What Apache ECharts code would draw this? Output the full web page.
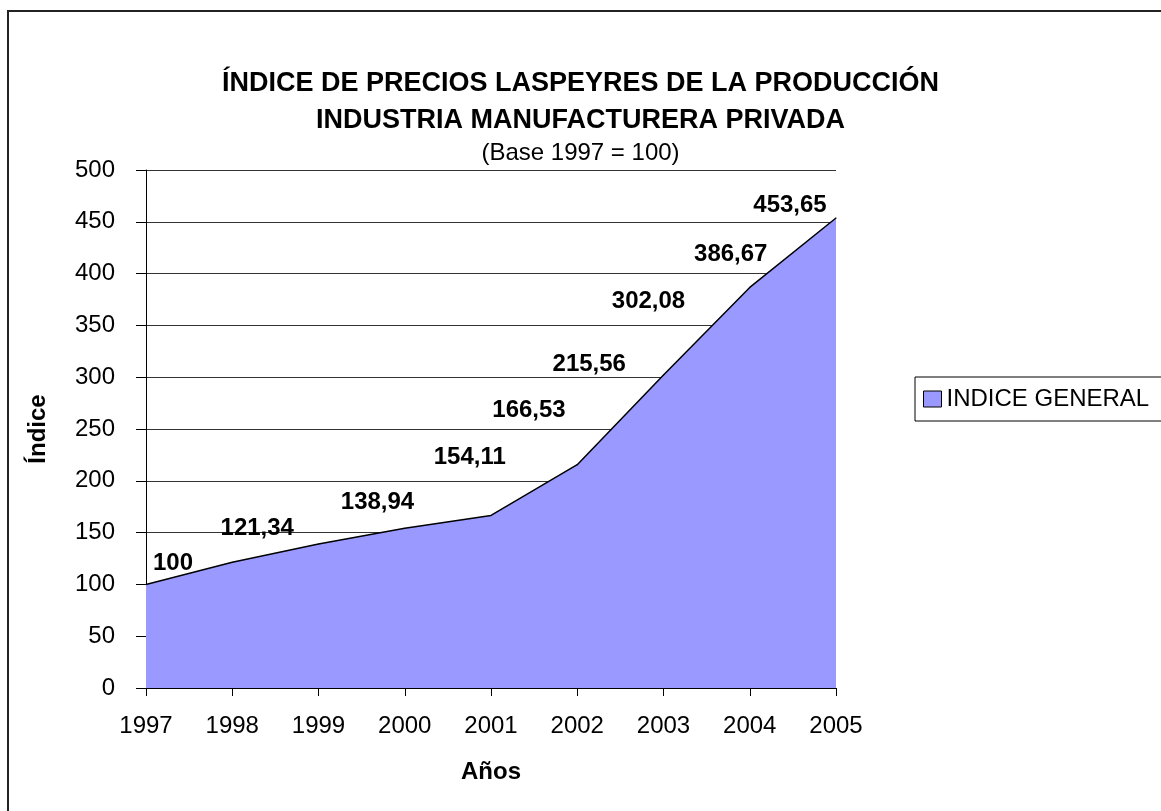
<!DOCTYPE html>
<html>
<head>
<meta charset="utf-8">
<script src="https://cdn.jsdelivr.net/npm/echarts@6/dist/echarts.min.js"></script>
<style>
  html, body { margin: 0; padding: 0; background: #fff; }
  #main { width: 1161px; height: 811px; }
</style>
</head>
<body>
<div id="main"></div>
<script>
// datos
const years = ['1997', '1998', '1999', '2000', '2001', '2002', '2003', '2004', '2005']
const indiceGeneral = [100, 121.34, 138.94, 154.11, 166.53, 215.56, 302.08, 386.67, 453.65]
const yTicks = [0, 50, 100, 150, 200, 250, 300, 350, 400, 450, 500]

// desplazamiento de cada etiqueta (como en la hoja original)
const labelOffsets = [[27, -4], [25, -16], [59, -24], [65, -53], [38, -88], [12, -83], [-15, -56], [-19, -16], [-46, 5]]

const font = 'Liberation Sans, Arial, sans-serif'

const chart = echarts.init(document.getElementById('main'))
chart.setOption({
  backgroundColor: '#fff',
  animation: false,
  textStyle: { fontFamily: font, color: '#000' },
  title: {
    text: 'ÍNDICE DE PRECIOS LASPEYRES DE LA PRODUCCIÓN\nINDUSTRIA MANUFACTURERA PRIVADA',
    subtext: '(Base 1997 = 100)',
    left: 'center',
    top: 60,
    itemGap: 1,
    textStyle: { fontFamily: font, fontSize: 27, fontWeight: 'bold', color: '#000', lineHeight: 37 },
    subtextStyle: { fontFamily: font, fontSize: 24, color: '#000', lineHeight: 26 }
  },
  graphic: [{
    type: 'rect',
    shape: { x: 8, y: 11, width: 1300, height: 1000 },
    style: { fill: 'none', stroke: '#222', lineWidth: 2 },
    silent: true
  }],
  legend: {
    left: 915,
    top: 377,
    orient: 'vertical',
    padding: [10, 60, 10, 8],
    borderColor: '#000',
    borderWidth: 1,
    icon: 'rect',
    itemWidth: 18,
    itemHeight: 16,
    itemGap: 6,
    itemStyle: { color: '#9999FF', borderColor: '#000', borderWidth: 1 },
    textStyle: { fontFamily: font, fontSize: 24, color: '#000' },
    data: ['INDICE GENERAL']
  },
  grid: { left: 146, right: 325, top: 170, bottom: 123 },
  xAxis: {
    type: 'category',
    data: years,
    boundaryGap: false,
    name: 'Años',
    nameLocation: 'middle',
    nameGap: 72,
    nameTextStyle: { fontFamily: font, fontSize: 24, fontWeight: 'bold', color: '#000' },
    axisLine: { lineStyle: { color: '#000', width: 1 } },
    axisTick: { show: true, length: 8, lineStyle: { color: '#000' } },
    axisLabel: { margin: 26, fontFamily: font, fontSize: 24, color: '#000' },
    splitLine: { show: false }
  },
  yAxis: {
    type: 'value',
    min: yTicks[0],
    max: yTicks[yTicks.length - 1],
    interval: yTicks[1] - yTicks[0],
    name: 'Índice',
    nameLocation: 'middle',
    nameGap: 96,
    nameTextStyle: { fontFamily: font, fontSize: 24, fontWeight: 'bold', color: '#000' },
    axisLine: { show: true, lineStyle: { color: '#000', width: 1 } },
    axisTick: { show: true, length: 10, lineStyle: { color: '#000' } },
    axisLabel: { margin: 31, fontFamily: font, fontSize: 24, color: '#000' },
    splitLine: { show: true, lineStyle: { color: '#333', width: 1 } }
  },
  series: [{
    name: 'INDICE GENERAL',
    type: 'line',
    data: indiceGeneral.map((v, i) => ({
      value: v,
      label: { offset: labelOffsets[i] }
    })),
    symbol: 'circle',
    symbolSize: 1,
    showSymbol: true,
    lineStyle: { color: '#000', width: 1.5 },
    itemStyle: { color: '#000', borderWidth: 0 },
    areaStyle: { color: '#9999FF', opacity: 1 },
    label: {
      show: true,
      position: 'top',
      distance: 5,
      fontFamily: font,
      fontSize: 24,
      fontWeight: 'bold',
      color: '#000',
      formatter: p => String(p.value).replace('.', ',')
    },
    z: 3
  }]
})
</script>
</body>
</html>
